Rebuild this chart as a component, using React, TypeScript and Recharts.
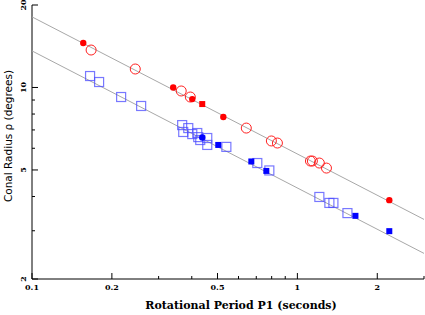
import React from 'react';
import { ScatterChart, Scatter, XAxis, YAxis } from 'recharts';

// ---- data ----
const redOpenP = [0.167, 0.245, 0.365, 0.395, 0.642, 0.798, 0.841, 1.12, 1.139, 1.21, 1.287];
const redOpenRho = [13.7, 11.68, 9.71, 9.23, 7.11, 6.38, 6.27, 5.39, 5.39, 5.3, 5.08];
const redDotP = [0.156, 0.3405, 0.4017, 0.526, 2.22];
const redDotRho = [14.53, 10.0, 9.07, 7.8, 3.88];
const redSquareP = [0.438];
const redSquareRho = [8.7];

const blueOpenP = [0.1655, 0.179, 0.2167, 0.2578, 0.368, 0.388, 0.3714, 0.4017, 0.4195, 0.4231, 0.4575, 0.4305, 0.4575, 0.54, 0.7063, 0.784, 1.21, 1.32, 1.367, 1.544];
const blueOpenRho = [11.01, 10.47, 9.23, 8.56, 7.29, 7.11, 6.88, 6.76, 6.82, 6.59, 6.54, 6.43, 6.17, 6.07, 5.3, 4.98, 3.985, 3.79, 3.79, 3.48];
const blueSquareP = [0.5033, 0.6706, 0.7638, 1.655, 2.22];
const blueSquareRho = [6.17, 5.37, 4.96, 3.4, 2.99];
const blueDotP = [0.438];
const blueDotRho = [6.57];

const outerLineP = [0.1, 3];
const outerLineRho = [18.1, 3.3];
const innerLineP = [0.1, 3];
const innerLineRho = [13.6, 2.48];

const xTicks = [0.1, 0.2, 0.3, 0.4, 0.5, 0.6, 0.7, 0.8, 0.9, 1, 2, 3];
const xMajor = [0.1, 0.2, 0.5, 1, 2];
const xTickLabels = ['0.1', '0.2', '0.5', '1', '2'];
const yTicks = [2, 3, 4, 5, 6, 7, 8, 9, 10, 20];
const yMajor = [2, 5, 10, 20];
const yTickLabels = ['2', '5', '10', '20'];

const xTitle = 'Rotational Period P1 (seconds)';
const yTitle = 'Conal Radius \u03C1 (degrees)';

const zip = (xs: number[], ys: number[]) => xs.map((x, i) => ({ x, y: ys[i] }));

const FONT = 'DejaVu Serif';
const MAJ = 6;
const MIN = 3;

const OpenCircle = (p: any) => (
  <circle cx={p.cx} cy={p.cy} r={5} fill="none" stroke="#ff2020" strokeWidth={1} />
);
const Dot = (color: string) => (p: any) => (
  <circle cx={p.cx} cy={p.cy} r={3.2} fill={color} stroke="none" />
);
const FilledSquare = (color: string) => (p: any) => (
  <rect x={p.cx - 3} y={p.cy - 3} width={6} height={6} fill={color} stroke="none" />
);
const OpenSquare = (p: any) => (
  <rect x={p.cx - 4.5} y={p.cy - 4.5} width={9} height={9} fill="none" stroke="#4b4bff" strokeOpacity={0.75} strokeWidth={1.2} />
);
const NoShape = () => <g />;

const labelOf = (v: number, major: number[], labels: string[]) => {
  const i = major.indexOf(v);
  return i >= 0 ? labels[i] : null;
};

const BottomTick = (p: any) => {
  const v = p.payload.value;
  const lab = labelOf(v, xMajor, xTickLabels);
  const len = lab !== null ? MAJ : MIN;
  return (
    <g>
      <line x1={p.x} x2={p.x} y1={p.y} y2={p.y - len} stroke="#000" strokeWidth={1} />
      {lab !== null && (
        <text x={p.x} y={p.y + 11} textAnchor="middle" fontFamily={FONT} fontWeight="bold" fontSize={8} fill="#000">
          {lab}
        </text>
      )}
    </g>
  );
};
const TopTick = (p: any) => {
  const v = p.payload.value;
  const len = xMajor.includes(v) ? MAJ : MIN;
  return <line x1={p.x} x2={p.x} y1={p.y} y2={p.y + len} stroke="#000" strokeWidth={1} />;
};
const LeftTick = (p: any) => {
  const v = p.payload.value;
  const lab = labelOf(v, yMajor, yTickLabels);
  const len = lab !== null ? MAJ : MIN;
  const tx = p.x - 6;
  return (
    <g>
      <line x1={p.x} x2={p.x + len} y1={p.y} y2={p.y} stroke="#000" strokeWidth={1} />
      {lab !== null && (
        <text x={tx} y={p.y} transform={`rotate(-90, ${tx}, ${p.y})`} textAnchor="middle" fontFamily={FONT} fontWeight="bold" fontSize={8} fill="#000">
          {lab}
        </text>
      )}
    </g>
  );
};
const RightTick = (p: any) => {
  const v = p.payload.value;
  const len = yMajor.includes(v) ? MAJ : MIN;
  return <line x1={p.x} x2={p.x - len} y1={p.y} y2={p.y} stroke="#000" strokeWidth={1} />;
};

const XTitle = (p: any) => {
  const vb = p.viewBox;
  return (
    <text x={vb.x + vb.width / 2 + 13} y={vb.y + 30} textAnchor="middle" fontFamily={FONT} fontWeight="bold" fontSize={11} fill="#000">
      {xTitle}
    </text>
  );
};
const YTitle = (p: any) => {
  const vb = p.viewBox;
  const x = vb.x + 12;
  const y = vb.y + vb.height / 2 - 6;
  return (
    <text x={x} y={y} transform={`rotate(-90, ${x}, ${y})`} textAnchor="middle" fontFamily="DejaVu Sans" fontSize={10.5} fill="#000">
      {yTitle}
    </text>
  );
};

export default function App() {
  const axisLine = { stroke: '#000', strokeWidth: 1 };
  return (
    <div style={{ position: 'absolute', left: 0, top: 0, width: 425, height: 315, background: '#fff' }}>
      <ScatterChart width={425} height={315} margin={{ top: 5, right: 1, bottom: 0, left: 0 }}>
        <XAxis xAxisId="b" type="number" dataKey="x" scale="log" domain={[0.1, 3]} allowDataOverflow
          ticks={xTicks} interval={0} orientation="bottom" height={36} tickSize={0} tickMargin={0}
          tickLine={false} axisLine={axisLine} tick={<BottomTick />} label={{ content: (pp: any) => <XTitle {...pp} /> }} />
        <XAxis xAxisId="t" type="number" dataKey="x" scale="log" domain={[0.1, 3]} allowDataOverflow
          ticks={xTicks} interval={0} orientation="top" height={0} tickSize={0} tickMargin={0}
          tickLine={false} axisLine={axisLine} tick={<TopTick />} />
        <YAxis yAxisId="l" type="number" dataKey="y" scale="log" domain={[2, 20]} allowDataOverflow
          ticks={yTicks} interval={0} orientation="left" width={32} tickSize={0} tickMargin={0}
          tickLine={false} axisLine={axisLine} tick={<LeftTick />} label={{ content: (pp: any) => <YTitle {...pp} /> }} />
        <YAxis yAxisId="r" type="number" dataKey="y" scale="log" domain={[2, 20]} allowDataOverflow
          ticks={yTicks} interval={0} orientation="right" width={0} tickSize={0} tickMargin={0}
          tickLine={false} axisLine={axisLine} tick={<RightTick />} />

        <Scatter xAxisId="b" yAxisId="l" data={zip(outerLineP, outerLineRho)} line={{ stroke: '#a8a8a8', strokeWidth: 1 }} shape={NoShape} isAnimationActive={false} />
        <Scatter xAxisId="b" yAxisId="l" data={zip(innerLineP, innerLineRho)} line={{ stroke: '#a8a8a8', strokeWidth: 1 }} shape={NoShape} isAnimationActive={false} />

        <Scatter xAxisId="b" yAxisId="l" data={zip(blueOpenP, blueOpenRho)} shape={OpenSquare} isAnimationActive={false} />
        <Scatter xAxisId="b" yAxisId="l" data={zip(blueSquareP, blueSquareRho)} shape={FilledSquare('#0000ff')} isAnimationActive={false} />
        <Scatter xAxisId="b" yAxisId="l" data={zip(blueDotP, blueDotRho)} shape={Dot('#0000ff')} isAnimationActive={false} />
        <Scatter xAxisId="b" yAxisId="l" data={zip(redOpenP, redOpenRho)} shape={OpenCircle} isAnimationActive={false} />
        <Scatter xAxisId="b" yAxisId="l" data={zip(redDotP, redDotRho)} shape={Dot('#ff0000')} isAnimationActive={false} />
        <Scatter xAxisId="b" yAxisId="l" data={zip(redSquareP, redSquareRho)} shape={FilledSquare('#ff0000')} isAnimationActive={false} />
      </ScatterChart>
    </div>
  );
}
